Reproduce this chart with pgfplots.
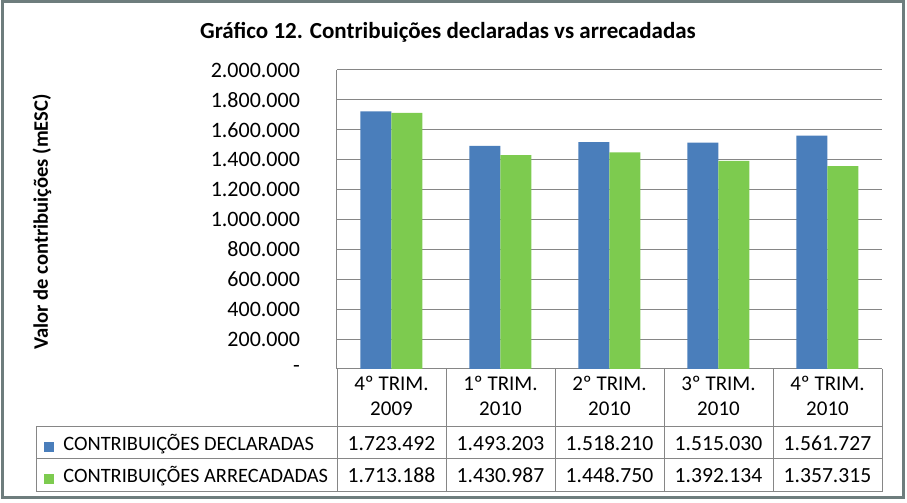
\documentclass[border=0pt]{standalone}
\usepackage{pgfplots}
\pgfplotsset{compat=1.18}
\usepackage{fontspec}
\setmainfont{Carlito}
\definecolor{decl}{HTML}{4A7EBB}
\definecolor{arre}{HTML}{7DCB4F}
\definecolor{gridc}{HTML}{868686}
\definecolor{framec}{HTML}{6E7D7D}
\begin{document}
\begin{tikzpicture}
% page size: 907x503 px at 0.5pt per px
\path (0,0) rectangle (453.5pt,251.5pt);
\draw[framec, line width=1.5pt] (1pt,2.75pt) rectangle (451.75pt,250.75pt);

\node[font=\bfseries\fontsize{11.5}{14}\selectfont] at (224pt,235.5pt)
  {Gráfico 12. Contribuições declaradas vs arrecadadas};
\node[font=\bfseries\fontsize{10.3}{12}\selectfont, rotate=90] at (21pt,140.5pt)
  {Valor de contribuições (mESC)};

\begin{axis}[
  at={(168.5pt,67pt)}, anchor=south west,
  scale only axis, width=272.5pt, height=149.5pt,
  xmin=-0.5, xmax=4.5, ymin=0, ymax=2000000,
  ybar=0pt, bar width=15.5pt,
  axis y line=left, axis x line=bottom,
  axis line style={gridc, line width=0.5pt, -},
  ymajorgrids, grid style={gridc, line width=0.5pt},
  major tick length=0pt,
  scaled y ticks=false,
  ytick={0,200000,400000,600000,800000,1000000,1200000,1400000,1600000,1800000,2000000},
  yticklabels={{-\hspace{5pt}},200.000,400.000,600.000,800.000,1.000.000,1.200.000,1.400.000,1.600.000,1.800.000,2.000.000},
  yticklabel style={font=\fontsize{11}{13}\selectfont, xshift=-15pt},
  xtick={0,1,2,3,4},
  xticklabels={{4º TRIM.\\2009},{1º TRIM.\\2010},{2º TRIM.\\2010},{3º TRIM.\\2010},{4º TRIM.\\2010}},
  xticklabel style={font=\fontsize{10.5}{12.5}\selectfont, align=center},
  clip=false,
]
\addplot[draw=none, fill=decl] coordinates {
  (0,1723492) (1,1493203) (2,1518210) (3,1515030) (4,1561727)};
\addplot[draw=none, fill=arre] coordinates {
  (0,1713188) (1,1430987) (2,1448750) (3,1392134) (4,1357315)};

% data table values
\begin{scope}[every node/.style={font=\fontsize{10.8}{13}\selectfont, anchor=base}]
\node at ([yshift=-41pt]axis cs:0,0) {1.723.492};
\node at ([yshift=-41pt]axis cs:1,0) {1.493.203};
\node at ([yshift=-41pt]axis cs:2,0) {1.518.210};
\node at ([yshift=-41pt]axis cs:3,0) {1.515.030};
\node at ([yshift=-41pt]axis cs:4,0) {1.561.727};
\node at ([yshift=-57pt]axis cs:0,0) {1.713.188};
\node at ([yshift=-57pt]axis cs:1,0) {1.430.987};
\node at ([yshift=-57pt]axis cs:2,0) {1.448.750};
\node at ([yshift=-57pt]axis cs:3,0) {1.392.134};
\node at ([yshift=-57pt]axis cs:4,0) {1.357.315};
\end{scope}
\end{axis}

% data table grid
\draw[gridc, line width=0.5pt]
  (18pt,38pt) -- (441pt,38pt)
  (18pt,22pt) -- (441pt,22pt)
  (18pt,5.5pt) -- (441pt,5.5pt)
  (18pt,38pt) -- (18pt,5.5pt);
\foreach \x in {168.5,223,277.5,332,386.5,441}
  \draw[gridc, line width=0.5pt] (\x pt,67pt) -- (\x pt,5.5pt);

% legend keys and series names
\fill[decl] (22pt,25.5pt) rectangle (27pt,30.5pt);
\fill[arre] (22pt,9.5pt) rectangle (27pt,14.5pt);
\node[font=\fontsize{10.2}{12}\selectfont, anchor=base west, inner sep=0pt] at (31.5pt,26pt) {CONTRIBUIÇÕES DECLARADAS};
\node[font=\fontsize{10.2}{12}\selectfont, anchor=base west, inner sep=0pt] at (31.5pt,10pt) {CONTRIBUIÇÕES ARRECADADAS};
\end{tikzpicture}
\end{document}
